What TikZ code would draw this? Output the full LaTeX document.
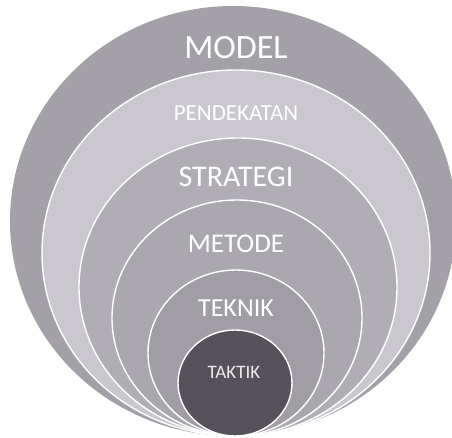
\documentclass[tikz,border=0pt]{standalone}
\usepackage{fontspec}
\setmainfont{Carlito}
\definecolor{modelgray}{RGB}{164,160,168}
\definecolor{pendgray}{RGB}{202,199,206}
\definecolor{stratgray}{RGB}{176,173,180}
\definecolor{metgray}{RGB}{170,167,174}
\definecolor{tekgray}{RGB}{160,157,164}
\definecolor{taktikgray}{RGB}{86,81,90}
\tikzset{
	ring/.style={draw=white, line width=1.4pt},
	levellabel/.style={text=white, inner sep=0pt, anchor=center}
}
\begin{document}
\begin{tikzpicture}[x=1pt,y=-1pt]
		\useasboundingbox (0,0) rectangle (452,438);
		\clip (0,0) rectangle (452,438);
		\fill[white] (0,0) rectangle (452,438);
		
		% outer disc and nested rings, all touching at the bottom
		\fill[modelgray] (233,221) ellipse [x radius=223, y radius=215];
		\foreach \cx/\rx/\ry/\c in {236/194/183/pendgray, 238/159/149/stratgray, 237/125/118/metgray, 236/88/83/tekgray, 235/57/53/taktikgray}{
			\draw[ring, fill=\c] (\cx,{436-\ry}) ellipse [x radius=\rx, y radius=\ry];
		}
		
		\foreach \n/\y/\s/\t in {model/48/34/MODEL, pendekatan/113/23/PENDEKATAN, strategi/177/30/STRATEGI, metode/244/27/METODE, teknik/308/26/TEKNIK}{
			\node[levellabel, font={\fontsize{\s}{\s}\selectfont}] (\n) at (236,\y) {\t};
		}
		\node[levellabel, text=white!85!gray, font={\fontsize{19}{19}\selectfont}] (taktik) at (234,372) {TAKTIK};
		\end{tikzpicture}
\end{document}
